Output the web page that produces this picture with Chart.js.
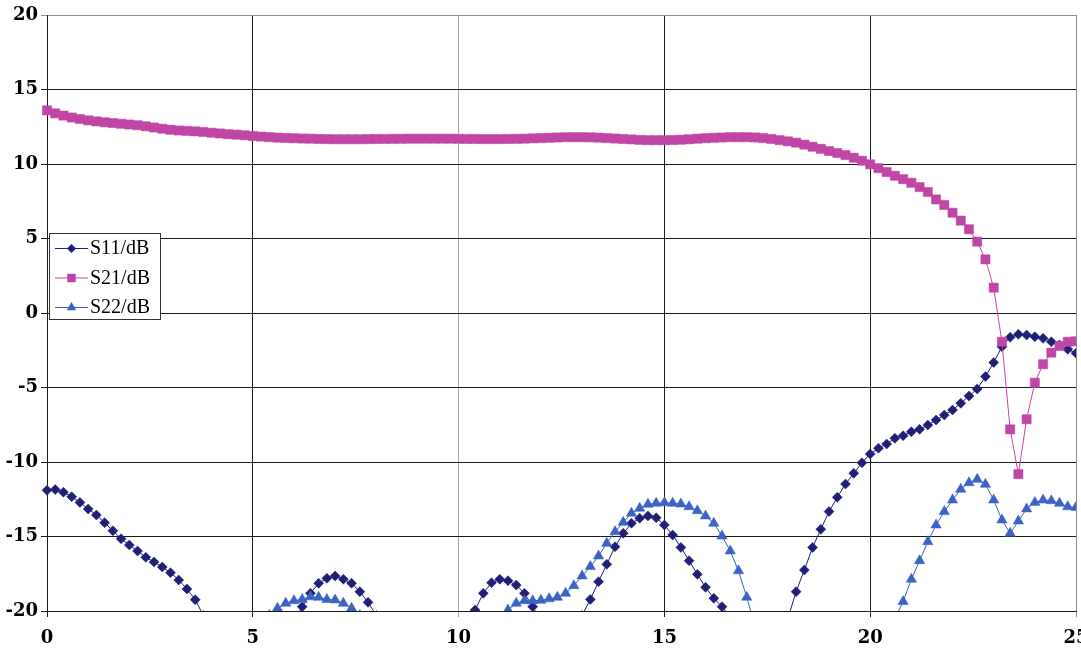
<!DOCTYPE html>
<html>
<head>
<meta charset="utf-8">
<script src="https://cdn.jsdelivr.net/npm/chart.js@4.4.1/dist/chart.umd.min.js"></script>
<style>
  html, body { margin: 0; padding: 0; background: #ffffff; overflow: hidden; }
  #outer { position: relative; width: 1081px; height: 650px; overflow: hidden; }
  #wrap { position: relative; width: 1083px; height: 650px; }
</style>
</head>
<body>
<div id="outer"><div id="wrap"><canvas id="c"></canvas></div></div>
<script>
// Frequency points (x axis)
const freq = [
  0.0, 0.2, 0.4, 0.6, 0.8, 1.0, 1.2, 1.4, 1.6, 1.8,
  2.0, 2.2, 2.4, 2.6, 2.8, 3.0, 3.2, 3.4, 3.6, 3.8,
  4.0, 4.2, 4.4, 4.6, 4.8, 5.0, 5.2, 5.4, 5.6, 5.8,
  6.0, 6.2, 6.4, 6.6, 6.8, 7.0, 7.2, 7.4, 7.6, 7.8,
  8.0, 8.2, 8.4, 8.6, 8.8, 9.0, 9.2, 9.4, 9.6, 9.8,
  10.0, 10.2, 10.4, 10.6, 10.8, 11.0, 11.2, 11.4, 11.6, 11.8,
  12.0, 12.2, 12.4, 12.6, 12.8, 13.0, 13.2, 13.4, 13.6, 13.8,
  14.0, 14.2, 14.4, 14.6, 14.8, 15.0, 15.2, 15.4, 15.6, 15.8,
  16.0, 16.2, 16.4, 16.6, 16.8, 17.0, 17.2, 17.4, 17.6, 17.8,
  18.0, 18.2, 18.4, 18.6, 18.8, 19.0, 19.2, 19.4, 19.6, 19.8,
  20.0, 20.2, 20.4, 20.6, 20.8, 21.0, 21.2, 21.4, 21.6, 21.8,
  22.0, 22.2, 22.4, 22.6, 22.8, 23.0, 23.2, 23.4, 23.6, 23.8,
  24.0, 24.2, 24.4, 24.6, 24.8, 25.0
];

// S11 / dB (null = off-chart below -20)
const s11 = [
  -11.9, -11.85, -12.03, -12.33, -12.71, -13.15, -13.56, -14.07, -14.61, -15.15,
  -15.57, -15.97, -16.4, -16.71, -17.05, -17.43, -17.92, -18.52, -19.24, -20.3,
  null, null, null, null, null, null, null, null, null, null,
  -20.7, -19.71, -18.81, -18.14, -17.81, -17.65, -17.87, -18.14, -18.7, -19.42,
  -20.3, null, null, null, null, null, null, null, null, null,
  null, null, -19.93, -18.81, -18.1, -17.87, -17.97, -18.26, -18.81, -19.71,
  -20.6, null, null, null, null, -20.3, -19.22, -18.03, -16.87, -15.68,
  -14.79, -14.11, -13.78, -13.62, -13.74, -14.23, -14.9, -15.73, -16.62, -17.54,
  -18.41, -19.15, -19.71, -20.4, null, null, null, null, null, null,
  -20.5, -18.7, -17.25, -15.73, -14.52, -13.33, -12.37, -11.48, -10.76, -10.05,
  -9.46, -9.08, -8.79, -8.41, -8.23, -7.97, -7.81, -7.52, -7.18, -6.85,
  -6.51, -6.06, -5.57, -5.1, -4.27, -3.33, -2.26, -1.63, -1.43, -1.48,
  -1.59, -1.7, -1.93, -2.15, -2.44, -2.7
];

// S21 / dB
const s21 = [
  13.6, 13.4, 13.25, 13.12, 13.02, 12.93, 12.86, 12.8, 12.75, 12.7,
  12.65, 12.6, 12.53, 12.45, 12.37, 12.3, 12.25, 12.22, 12.19, 12.15,
  12.1, 12.05, 12.0, 11.97, 11.93, 11.88, 11.84, 11.8, 11.77, 11.75,
  11.73, 11.71, 11.7, 11.68, 11.67, 11.66, 11.66, 11.66, 11.66, 11.67,
  11.68, 11.68, 11.69, 11.69, 11.7, 11.7, 11.7, 11.7, 11.7, 11.7,
  11.69, 11.68, 11.68, 11.67, 11.67, 11.67, 11.68, 11.69, 11.7, 11.72,
  11.74, 11.76, 11.78, 11.8, 11.8, 11.8, 11.79, 11.77, 11.74, 11.71,
  11.68, 11.65, 11.62, 11.6, 11.6, 11.6, 11.61, 11.63, 11.66, 11.7,
  11.73, 11.76, 11.78, 11.8, 11.8, 11.8, 11.78, 11.74, 11.68, 11.6,
  11.52, 11.43, 11.3, 11.16, 11.02, 10.87, 10.74, 10.6, 10.42, 10.22,
  9.98, 9.72, 9.46, 9.21, 8.98, 8.74, 8.45, 8.12, 7.62, 7.25,
  6.73, 6.2, 5.62, 4.79, 3.6, 1.7, -1.93, -7.81, -10.81, -7.13,
  -4.68, -3.44, -2.66, -2.21, -1.93, -1.9
];

// S22 / dB (null = off-chart below -20)
const s22 = [
  null, null, null, null, null, null, null, null, null, null,
  null, null, null, null, null, null, null, null, null, null,
  null, null, null, null, null, null, null, -20.3, -19.82, -19.48,
  -19.31, -19.22, -19.05, -19.08, -19.22, -19.26, -19.48, -19.82, -20.3, null,
  null, null, null, null, null, null, null, null, null, null,
  null, null, null, null, null, -20.6, -19.93, -19.48, -19.31, -19.31,
  -19.28, -19.18, -19.08, -18.81, -18.3, -17.65, -17.02, -16.31, -15.46, -14.68,
  -14.05, -13.44, -13.11, -12.84, -12.77, -12.73, -12.77, -12.82, -13.0, -13.27,
  -13.62, -14.11, -14.97, -15.97, -17.3, -19.08, -21.0, null, null, null,
  null, null, null, null, null, null, null, null, null, null,
  null, null, null, -20.5, -19.37, -17.87, -16.62, -15.35, -14.23, -13.33,
  -12.55, -11.83, -11.39, -11.16, -11.5, -12.55, -13.89, -14.79, -13.96, -13.15,
  -12.71, -12.55, -12.6, -12.77, -13.0, -13.05
];

const seriesLabels = ['S11/dB', 'S21/dB', 'S22/dB'];
const xTicks = [0, 5, 10, 15, 20, 25];
const yTicks = [-20, -15, -10, -5, 0, 5, 10, 15, 20];

const colors = { s11: '#1f1f78', s21: '#c046a6', s22: '#3c62c6' };

function pts(vals) {
  return freq.map((f, i) => ({ x: f, y: vals[i] }));
}

function drawMarker(ctx, style, x, y, r, color) {
  ctx.save();
  ctx.fillStyle = color;
  ctx.beginPath();
  if (style === 'rectRot') {
    ctx.moveTo(x, y - r); ctx.lineTo(x + r, y); ctx.lineTo(x, y + r); ctx.lineTo(x - r, y);
  } else if (style === 'rect') {
    const s = Math.SQRT1_2 * r;
    ctx.rect(x - s, y - s, 2 * s, 2 * s);
  } else {
    ctx.moveTo(x, y - r);
    ctx.lineTo(x + r * 0.866, y + r * 0.5);
    ctx.lineTo(x - r * 0.866, y + r * 0.5);
  }
  ctx.closePath();
  ctx.fill();
  ctx.restore();
}

const legendPlugin = {
  id: 'boxLegend',
  afterDraw(chart) {
    const ctx = chart.ctx;
    const bx = 49.5, by = 233.5, bw = 111, bh = 86;
    ctx.save();
    ctx.fillStyle = '#ffffff';
    ctx.fillRect(bx, by, bw, bh);
    ctx.strokeStyle = '#333333';
    ctx.lineWidth = 1;
    ctx.strokeRect(bx, by, bw, bh);
    const rows = [248, 277.5, 307];
    chart.data.datasets.forEach((ds, i) => {
      const y = rows[i];
      ctx.strokeStyle = ds.borderColor;
      ctx.lineWidth = 1;
      ctx.beginPath();
      ctx.moveTo(55, y + 0.5);
      ctx.lineTo(88, y + 0.5);
      ctx.stroke();
      drawMarker(ctx, ds.pointStyle, 71.5, y + 0.5, ds.pointRadius - 0.5, ds.backgroundColor);
      ctx.fillStyle = '#000000';
      ctx.font = '20px "Liberation Serif", "Times New Roman", serif';
      ctx.textBaseline = 'middle';
      ctx.textAlign = 'left';
      ctx.fillText(ds.label, 90, y + 1);
    });
    ctx.restore();
  }
};

const tickFont = { family: '"DejaVu Serif", serif', size: 18, weight: 'bold' };
const clipArea = { left: 8, top: 8, right: 0, bottom: 0 };

new Chart(document.getElementById('c'), {
  type: 'line',
  data: {
    datasets: [
      {
        label: seriesLabels[0], data: pts(s11), order: 3,
        borderColor: colors.s11, backgroundColor: colors.s11,
        pointBackgroundColor: colors.s11, pointBorderColor: colors.s11,
        borderWidth: 1, pointStyle: 'rectRot', pointRadius: 5, pointBorderWidth: 0.5,
        tension: 0, spanGaps: false, clip: clipArea
      },
      {
        label: seriesLabels[1], data: pts(s21), order: 2,
        borderColor: colors.s21, backgroundColor: colors.s21,
        pointBackgroundColor: colors.s21, pointBorderColor: colors.s21,
        borderWidth: 1, pointStyle: 'rect', pointRadius: 6.5, pointBorderWidth: 0.5,
        tension: 0, spanGaps: false, clip: clipArea
      },
      {
        label: seriesLabels[2], data: pts(s22), order: 1,
        borderColor: colors.s22, backgroundColor: colors.s22,
        pointBackgroundColor: colors.s22, pointBorderColor: colors.s22,
        borderWidth: 1, pointStyle: 'triangle', pointRadius: 6, pointBorderWidth: 0.5,
        tension: 0, spanGaps: false, clip: clipArea
      }
    ]
  },
  options: {
    responsive: true,
    maintainAspectRatio: false,
    animation: false,
    layout: { padding: { top: 15, right: 0, left: 0, bottom: 0 } },
    plugins: { legend: { display: false }, tooltip: { enabled: false } },
    scales: {
      x: {
        type: 'linear', min: 0, max: 25,
        afterBuildTicks: (s) => { s.ticks = xTicks.map(v => ({ value: v })); },
        afterFit: (s) => { s.height = 39; s.paddingLeft = 0; s.paddingRight = 0; },
        ticks: { color: '#000', font: tickFont, padding: 11, maxRotation: 0, autoSkip: false },
        grid: {
          color: (c) => {
            const v = c.tick ? c.tick.value : null;
            if (v === 10) return '#a6a6a6';
            if (v === 25) return '#8c8c8c';
            return '#1a1a1a';
          },
          lineWidth: 1, tickLength: 6, drawTicks: true
        },
        border: { display: true, color: '#1a1a1a', width: 1 }
      },
      y: {
        type: 'linear', min: -20, max: 20,
        afterBuildTicks: (s) => { s.ticks = yTicks.map(v => ({ value: v })); },
        afterFit: (s) => { s.width = 47; s.paddingTop = 0; s.paddingBottom = 0; },
        ticks: { color: '#000', font: tickFont, padding: 3, autoSkip: false },
        grid: {
          color: (c) => (c.tick && c.tick.value === 20) ? '#8c8c8c' : '#1a1a1a',
          lineWidth: 1, tickLength: 6, drawTicks: true
        },
        border: { display: true, color: '#1a1a1a', width: 1 }
      }
    }
  },
  plugins: [legendPlugin]
});
</script>
</body>
</html>
